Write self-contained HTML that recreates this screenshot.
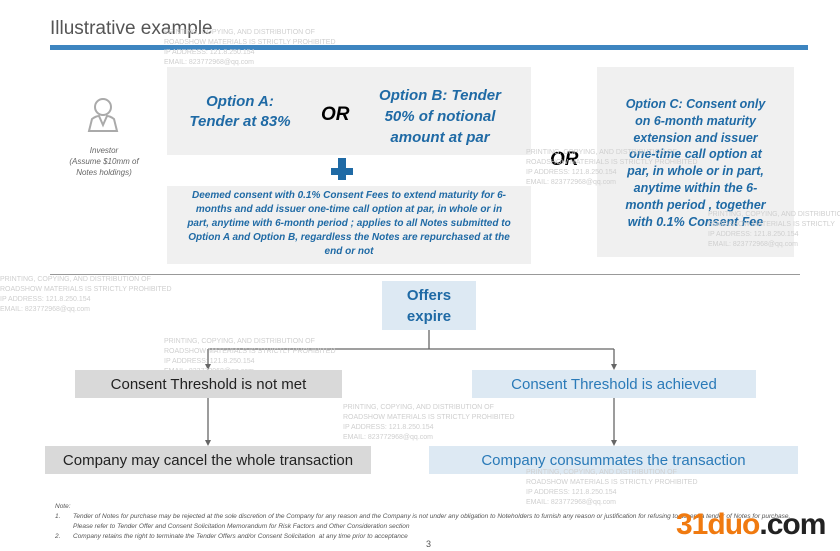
<!DOCTYPE html>
<html><head><meta charset="utf-8"><style>
body{margin:0;width:840px;height:551px;background:#fff;position:relative;overflow:hidden;font-family:"Liberation Sans",sans-serif}
.a{position:absolute}
.box{position:absolute;display:flex;align-items:center;justify-content:center;text-align:center}
.bl{color:#1f6aa5;font-weight:bold;font-style:italic}
.wm{position:absolute;color:#cfcfcf;font-size:7px;line-height:10px;white-space:nowrap}
</style></head><body>
<div class="a" style="left:50px;top:18px;font-size:19px;color:#555">Illustrative example</div>
<div class="a" style="left:50px;top:45px;width:758px;height:5px;background:#3d85c0"></div>
<div class="wm" style="left:164px;top:28px">PRINTING, COPYING, AND DISTRIBUTION OF<br>ROADSHOW MATERIALS IS STRICTLY PROHIBITED<br>IP ADDRESS: 121.8.250.154<br>EMAIL: 823772968@qq.com</div>

<svg class="a" style="left:86px;top:97px" width="34" height="36" viewBox="0 0 34 36"><circle cx="17" cy="10" r="8" fill="none" stroke="#aaa" stroke-width="2"/><path d="M3 34 L6 22 Q10 19 13 19 L17 28 L21 19 Q24 19 28 22 L31 34 Z" fill="none" stroke="#aaa" stroke-width="2"/></svg>
<div class="a" style="left:60px;top:145px;width:88px;text-align:center;font-size:8px;font-style:italic;color:#666;line-height:11px">Investor<br>(Assume $10mm of<br>Notes holdings)</div>

<div class="box" style="left:167px;top:67px;width:364px;height:88px;background:#f0f0f0"></div>
<div class="box bl" style="left:175px;top:92px;width:130px;font-size:15px;line-height:20px">Option A:<br>Tender at 83%</div>
<div class="a" style="left:321px;top:104px;font-size:19px;font-weight:bold;font-style:italic">OR</div>
<div class="box bl" style="left:365px;top:85px;width:150px;font-size:15px;line-height:21px">Option B: Tender<br>50% of notional<br>amount at par</div>
<div class="a" style="left:331px;top:168px;width:22px;height:7px;background:#1f6aa5"></div>
<div class="a" style="left:338px;top:158px;width:8px;height:22px;background:#1f6aa5"></div>
<div class="box" style="left:167px;top:186px;width:364px;height:78px;background:#f0f0f0"></div>
<div class="box bl" style="left:167px;top:189px;width:364px;font-size:10px;line-height:14px;white-space:nowrap">Deemed consent with 0.1% Consent Fees to extend maturity for 6-<br>months and add issuer one-time call option at par, in whole or in<br>part, anytime with 6-month period ; applies to all Notes submitted to<br>Option A and Option B, regardless the Notes are repurchased at the<br>end or not</div>
<div class="a" style="left:550px;top:149px;font-size:19px;font-weight:bold;font-style:italic">OR</div>
<div class="box" style="left:597px;top:67px;width:197px;height:190px;background:#f0f0f0"></div>
<div class="box bl" style="left:597px;top:96px;width:197px;font-size:12.5px;line-height:16.8px;white-space:nowrap">Option C: Consent only<br>on 6-month maturity<br>extension and issuer<br>one-time call option at<br>par, in whole or in part,<br>anytime within the 6-<br>month period , together<br>with 0.1% Consent Fee</div>
<div class="wm" style="left:526px;top:148px">PRINTING, COPYING, AND DISTRIBUTION OF<br>ROADSHOW MATERIALS IS STRICTLY PROHIBITED<br>IP ADDRESS: 121.8.250.154<br>EMAIL: 823772968@qq.com</div>
<div class="wm" style="left:708px;top:210px">PRINTING, COPYING, AND DISTRIBUTION OF<br>ROADSHOW MATERIALS IS STRICTLY<br>IP ADDRESS: 121.8.250.154<br>EMAIL: 823772968@qq.com</div>

<div class="a" style="left:50px;top:274px;width:750px;height:1px;background:#999"></div>
<div class="wm" style="left:0px;top:275px">PRINTING, COPYING, AND DISTRIBUTION OF<br>ROADSHOW MATERIALS IS STRICTLY PROHIBITED<br>IP ADDRESS: 121.8.250.154<br>EMAIL: 823772968@qq.com</div>

<div class="box" style="left:382px;top:281px;width:94px;height:49px;background:#dde9f3;color:#1f6aa5;font-weight:bold;font-size:15px;line-height:21px">Offers<br>expire</div>
<svg class="a" style="left:0;top:0" width="840" height="551">
<g stroke="#666" stroke-width="1.3" fill="none">
<path d="M429 330 V349 M208 349 H614 M208 349 V365 M614 349 V365 M208 398 V441 M614 398 V441"/></g>
<g fill="#666"><path d="M205 364 L211 364 L208 370Z M611 364 L617 364 L614 370Z M205 440 L211 440 L208 446Z M611 440 L617 440 L614 446Z"/></g>
</svg>
<div class="wm" style="left:164px;top:337px">PRINTING, COPYING, AND DISTRIBUTION OF<br>ROADSHOW MATERIALS IS STRICTLY PROHIBITED<br>IP ADDRESS: 121.8.250.154<br>EMAIL: 823772968@qq.com</div>
<div class="box" style="left:75px;top:370px;width:267px;height:28px;background:#d9d9d9;font-size:15px;color:#222">Consent Threshold is not met</div>
<div class="box" style="left:472px;top:370px;width:284px;height:28px;background:#dde9f3;font-size:15px;color:#2a7ab8">Consent Threshold is achieved</div>
<div class="wm" style="left:343px;top:403px">PRINTING, COPYING, AND DISTRIBUTION OF<br>ROADSHOW MATERIALS IS STRICTLY PROHIBITED<br>IP ADDRESS: 121.8.250.154<br>EMAIL: 823772968@qq.com</div>
<div class="box" style="left:45px;top:446px;width:326px;height:28px;background:#d9d9d9;font-size:15px;color:#222">Company may cancel the whole transaction</div>
<div class="box" style="left:429px;top:446px;width:369px;height:28px;background:#dde9f3;font-size:15px;color:#2a7ab8">Company consummates the transaction</div>
<div class="wm" style="left:526px;top:468px">PRINTING, COPYING, AND DISTRIBUTION OF<br>ROADSHOW MATERIALS IS STRICTLY PROHIBITED<br>IP ADDRESS: 121.8.250.154<br>EMAIL: 823772968@qq.com</div>

<div class="a" style="left:55px;top:502px;font-size:6.5px;font-style:italic;color:#555;line-height:10px">Note:</div>
<div class="a" style="left:55px;top:512px;font-size:6.5px;font-style:italic;color:#555;line-height:10px;width:740px">
<div style="position:relative;padding-left:18px"><span style="position:absolute;left:0">1.</span>Tender of Notes for purchase may be rejected at the sole discretion of the Company for any reason and the Company is not under any obligation to Noteholders to furnish any reason or justification for refusing to accept a tender of Notes for purchase. Please refer to Tender Offer and Consent Solicitation Memorandum for Risk Factors and Other Consideration section</div>
<div style="position:relative;padding-left:18px"><span style="position:absolute;left:0">2.</span>Company retains the right to terminate the Tender Offers and/or Consent Solicitation &nbsp;at any time prior to acceptance</div></div>
<div class="a" style="left:426px;top:539px;font-size:9px;color:#555">3</div>
<div class="a" style="left:676px;top:508px;font-size:30px;font-weight:bold;color:#f07a10;letter-spacing:-1px">31duo<span style="color:#222">.com</span></div>
</body></html>
